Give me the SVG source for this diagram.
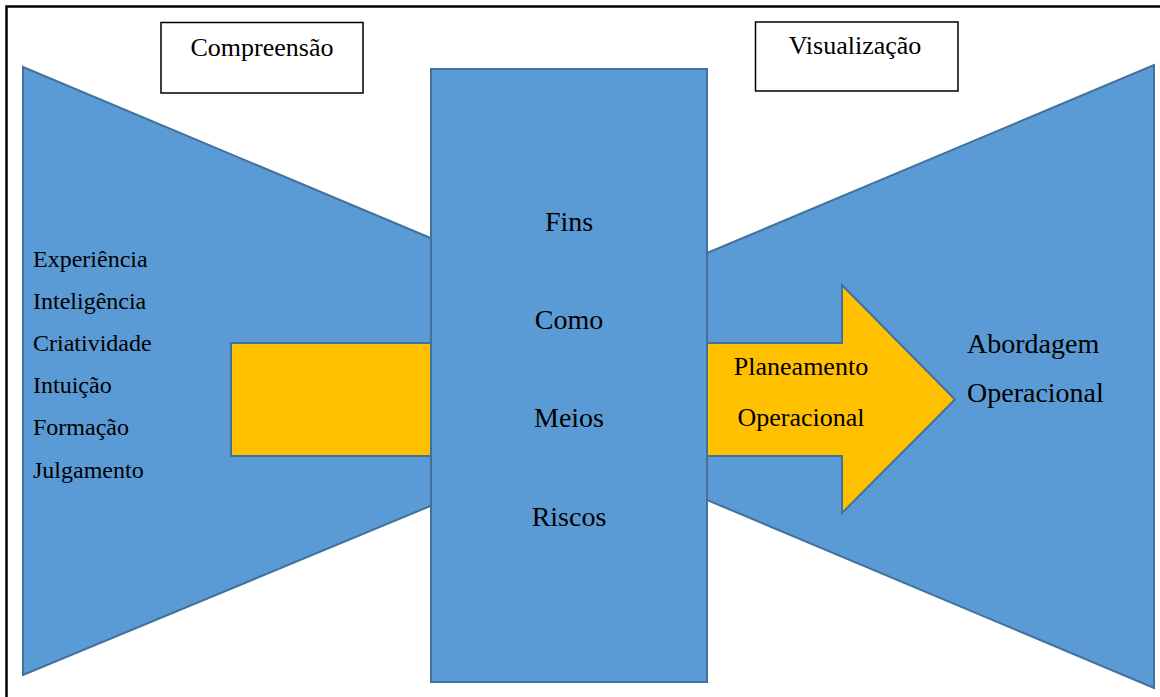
<svg xmlns="http://www.w3.org/2000/svg" width="1160" height="697" viewBox="0 0 1160 697">
<style>
.blue{fill:#5B9BD5;stroke:#41719C;stroke-width:2}
.yel{fill:#FFC000;stroke:#41719C;stroke-width:2}
.box{fill:#fff;stroke:#000;stroke-width:1.5}
text{font-family:"Liberation Serif","Times New Roman",serif;fill:#000}
.c{text-anchor:middle}
</style>
<rect width="1160" height="697" fill="#fff"/>
<path d="M6.5,697 V6.5 H1160" fill="none" stroke="#000" stroke-width="2.5"/>
<g id="compreensao">
<rect class="box" x="161" y="22.5" width="202" height="70.5"/>
<text class="c" x="262" y="56" font-size="26">Compreensão</text>
</g>
<g id="visualizacao">
<rect class="box" x="755.5" y="22" width="202.5" height="69"/>
<text class="c" x="855" y="54" font-size="26">Visualização</text>
</g>
<g id="left-funnel">
<polygon class="blue" points="23,67 440,242 440,502 23,675"/>
<rect class="yel" x="231" y="343" width="210" height="113"/>
<text x="33" y="267" font-size="24">Experiência</text>
<text x="33" y="309" font-size="24">Inteligência</text>
<text x="33" y="351" font-size="24">Criatividade</text>
<text x="33" y="393" font-size="24">Intuição</text>
<text x="33" y="435" font-size="24">Formação</text>
<text x="33" y="478" font-size="24">Julgamento</text>
</g>
<g id="right-funnel">
<polygon class="blue" points="1154,65 1154,688 700,497 700,256"/>
<text x="967" y="353" font-size="28">Abordagem</text>
<text x="967" y="402" font-size="28">Operacional</text>
</g>
<g id="connectors">
<polygon class="yel" points="700,343 842,343 842,285 955,399.5 842,513 842,456 700,456"/>
</g>
<g id="center">
<rect class="blue" x="431" y="69" width="276" height="613"/>
<text class="c" x="569" y="231" font-size="28">Fins</text>
<text class="c" x="569" y="329" font-size="28">Como</text>
<text class="c" x="569" y="427" font-size="28">Meios</text>
<text class="c" x="569" y="526" font-size="28">Riscos</text>
</g>
<g id="arrow-label">
<text class="c" x="801" y="375" font-size="26">Planeamento</text>
<text class="c" x="801" y="426" font-size="26">Operacional</text>
</g>
</svg>
